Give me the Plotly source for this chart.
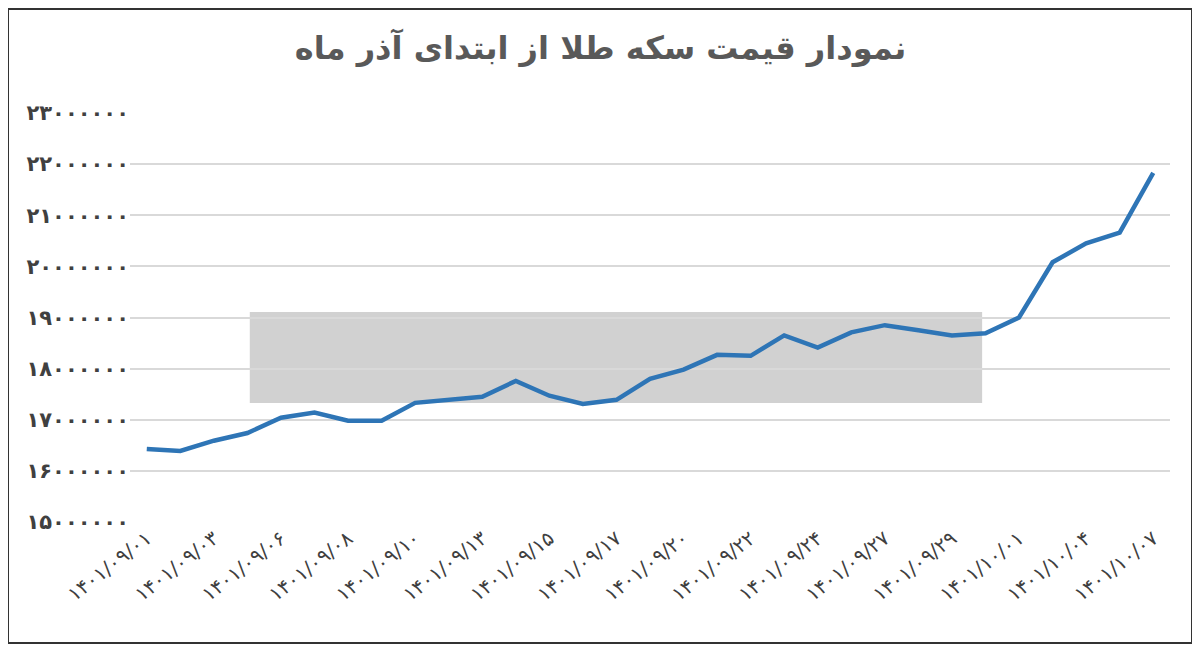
import plotly.graph_objects as go

fa = str.maketrans("0123456789", "۰۱۲۳۴۵۶۷۸۹")

dates = ["1401/09/01", "1401/09/02", "1401/09/03", "1401/09/05", "1401/09/06", "1401/09/07",
         "1401/09/08", "1401/09/09", "1401/09/10", "1401/09/12", "1401/09/13", "1401/09/14",
         "1401/09/15", "1401/09/16", "1401/09/17", "1401/09/19", "1401/09/20", "1401/09/21",
         "1401/09/22", "1401/09/23", "1401/09/24", "1401/09/26", "1401/09/27", "1401/09/28",
         "1401/09/29", "1401/09/30", "1401/10/01", "1401/10/03", "1401/10/04", "1401/10/05",
         "1401/10/07"]
prices = [16.43, 16.39, 16.59, 16.74, 17.04, 17.14, 16.98, 16.98, 17.33, 17.39, 17.45,
          17.76, 17.47, 17.31, 17.39, 17.80, 17.98, 18.27, 18.25, 18.65, 18.41, 18.71,
          18.85, 18.75, 18.65, 18.69, 19.00, 20.08, 20.45, 20.66, 21.83]
prices = [p * 1e6 for p in prices]
y_ticks = [15e6 + i * 1e6 for i in range(9)]

labels = [d.translate(fa) for d in dates]

# page has ~8px body margin, so the figure is a bit smaller than the window
fig = go.Figure(go.Scatter(x=labels, y=prices, mode="lines",
                           line=dict(color="#2e75b6", width=4.5)))

fig.update_layout(
    width=1185, height=636,
    paper_bgcolor="white", plot_bgcolor="white",
    margin=dict(l=122, r=23, t=105, b=122, autoexpand=False),
    showlegend=False,
    title=dict(text="<b>نمودار قیمت سکه طلا از ابتدای آذر ماه</b>", x=0.5, xanchor="center",
               y=0.955, font=dict(size=32, color="#595959", family="DejaVu Sans")),
    xaxis=dict(tickmode="array", tickvals=labels[::2], tickangle=-38, showgrid=False,
               tickprefix="<b>", ticksuffix="</b>",
               tickfont=dict(size=20, color="#404040", family="DejaVu Sans"),
               range=[-0.5, len(labels) - 0.5]),
    yaxis=dict(range=[15e6, 23e6], tickvals=y_ticks,
               ticktext=[f"<b>{int(v)}</b>".translate(fa) for v in y_ticks],
               gridcolor="#d9d9d9", gridwidth=2, zeroline=False, ticklen=0,
               tickfont=dict(size=21, color="#404040", family="DejaVu Sans")),
)
fig.add_shape(type="rect", xref="x", yref="y", x0=3.07, x1=24.9, y0=17.33e6, y1=19.11e6,
              fillcolor="rgba(140,140,140,0.4)", line=dict(width=0), layer="below")
fig.add_shape(type="rect", xref="paper", yref="paper",
              x0=-122 / 1040, x1=1 + 22 / 1040, y0=-121 / 409, y1=1 + 104 / 409,
              line=dict(color="#333", width=2))

fig.write_html("out.html")
